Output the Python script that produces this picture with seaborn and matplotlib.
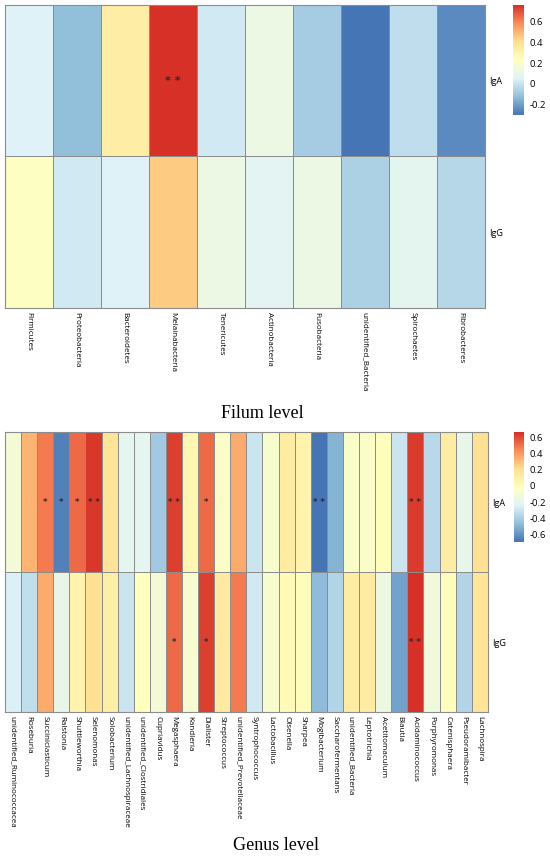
import numpy as np
import pandas as pd
import matplotlib
matplotlib.use("Agg")
import matplotlib.pyplot as plt
import seaborn as sns
from matplotlib.colors import LinearSegmentedColormap
from matplotlib.ticker import FuncFormatter

# data (correlation values)
rows = ["IgA", "IgG"]

phyla = ["Firmicutes", "Proteobacteria", "Bacteroidetes", "Melainabacteria",
         "Tenericutes", "Actinobacteria", "Fusobacteria", "unidentified_Bacteria",
         "Spirochaetes", "Fibrobacteres"]
phyla_iga = [0.05, -0.12, 0.33, 0.76, 0.02, 0.12, -0.08, -0.30, -0.02, -0.25]
phyla_igg = [0.22, 0.02, 0.05, 0.45, 0.12, 0.07, 0.12, -0.06, 0.08, -0.04]
phyla_sig_iga = ["", "", "", "* *", "", "", "", "", "", ""]
phyla_sig_igg = ["", "", "", "", "", "", "", "", "", ""]

genera = ["unidentified_Ruminococcacea", "Roseburia", "Succiniclasticum", "Ralstonia",
          "Shuttleworthia", "Selenomonas", "Solobacterium", "unidentified_Lachnospiraceae",
          "unidentified_Clostridiales", "Cupriavidus", "Megasphaera", "Kandleria",
          "Dialister", "Streptococcus", "unidentified_Prevotellaceae", "Syntrophococcus",
          "Lactobacillus", "Olsenella", "Sharpea", "Mogibacterium", "Saccharofermentans",
          "unidentified_Bacteria", "Leptotrichia", "Acetitomaculum", "Blautia",
          "Acidaminococcus", "Porphyromonas", "Catenisphaera", "Pseudoramibacter",
          "Lachnospira"]
genus_iga = [-0.10, 0.33, 0.48, -0.65, 0.52, 0.64, 0.18, -0.20, -0.20, -0.42,
             0.62, 0.05, 0.52, -0.05, 0.35, -0.30, -0.07, 0.12, 0.07, -0.69,
             -0.50, -0.05, -0.05, 0.00, -0.30, 0.63, -0.35, 0.12, -0.18, 0.20]
genus_igg = [-0.25, -0.33, 0.35, -0.18, 0.07, 0.20, 0.10, -0.30, -0.01, -0.10,
             0.52, -0.08, 0.62, 0.13, 0.48, -0.28, -0.07, 0.02, 0.00, -0.47,
             -0.37, 0.12, 0.12, -0.15, -0.55, 0.66, -0.13, 0.00, -0.37, 0.17]
genus_sig_iga = ["", "", "*", "*", "*", "* *", "", "", "", "",
                 "* *", "", "*", "", "", "", "", "", "", "* *",
                 "", "", "", "", "", "* *", "", "", "", ""]
genus_sig_igg = ["", "", "", "", "", "", "", "", "", "",
                 "*", "", "*", "", "", "", "", "", "", "",
                 "", "", "", "", "", "* *", "", "", "", ""]

cmap = LinearSegmentedColormap.from_list(
    "pheat", ["#4575B4", "#91BFDB", "#E0F3F8", "#FFFFBF", "#FEE090", "#FC8D59", "#D73027"])

label_font = "Open Sans"
fmt0 = FuncFormatter(lambda v, p: "0" if abs(v) < 1e-9 else f"{v:g}")


def draw(ax, cax, cols, a, g, sa, sg, ticks, star_size):
    df = pd.DataFrame([a, g], index=rows, columns=cols)
    ann = np.array([sa, sg])
    sns.heatmap(df, ax=ax, cbar_ax=cax, cmap=cmap,
                vmin=df.values.min(), vmax=df.values.max(),
                linewidths=0.6, linecolor="#8c8c8c",
                annot=ann, fmt="",
                annot_kws={"fontsize": star_size, "color": "#2b2b2b",
                           "fontweight": "bold"},
                cbar_kws={"ticks": ticks, "format": fmt0})
    for sp in ax.spines.values():
        sp.set_visible(True)
        sp.set_color("#8c8c8c")
        sp.set_linewidth(0.8)
    ax.yaxis.tick_right()
    ax.set_yticklabels(rows, rotation=0, fontsize=6.5, family=label_font)
    ax.set_xticklabels(cols, rotation=270, fontsize=5.8, family=label_font,
                       ha="center", va="top")
    ax.tick_params(length=0, pad=3)
    ax.set_xlabel("")
    ax.set_ylabel("")
    cax.tick_params(length=0, labelsize=6.8, pad=4)
    for t in cax.get_yticklabels():
        t.set_family(label_font)
    ax.collections[0].colorbar.outline.set_visible(False)


fig = plt.figure(figsize=(5.5, 8.57), dpi=100)

ax1 = fig.add_axes([0.009, 0.6406, 0.873, 0.3536])
cax1 = fig.add_axes([0.933, 0.8658, 0.02, 0.1284])
draw(ax1, cax1, phyla, phyla_iga, phyla_igg, phyla_sig_iga, phyla_sig_igg,
     [-0.2, 0, 0.2, 0.4, 0.6], 8)

ax2 = fig.add_axes([0.009, 0.1692, 0.878, 0.3267])
cax2 = fig.add_axes([0.9345, 0.3676, 0.018, 0.128])
draw(ax2, cax2, genera, genus_iga, genus_igg, genus_sig_iga, genus_sig_igg,
     [-0.6, -0.4, -0.2, 0, 0.2, 0.4, 0.6], 6)

fig.text(262 / 550, 1 - 413 / 857, "Filum level", ha="center", va="center",
         fontsize=13, family="Liberation Serif")
fig.text(276 / 550, 1 - 845 / 857, "Genus level", ha="center", va="center",
         fontsize=13, family="Liberation Serif")

fig.savefig("out.png", dpi=100, facecolor="white")
